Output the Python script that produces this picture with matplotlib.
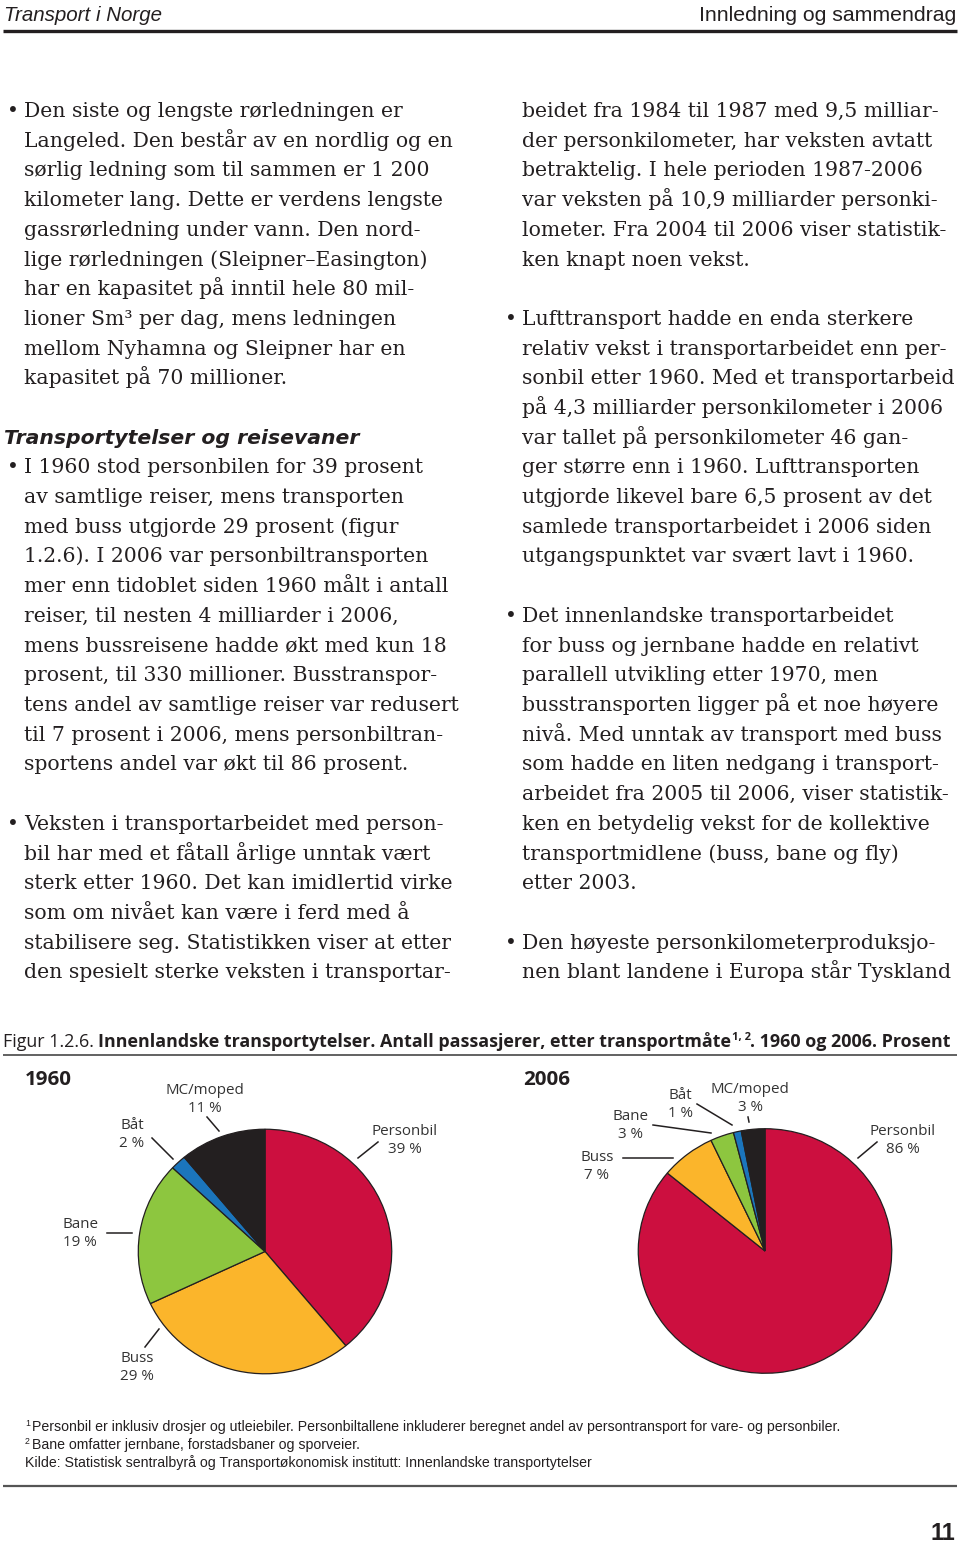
# %%
import matplotlib

matplotlib.use("Agg")
import matplotlib.pyplot as plt

# %% data: passenger shares by transport mode (percent)
modes = ["Personbil", "Buss", "Bane", "Båt", "MC/moped"]
share_1960 = [39, 29, 19, 2, 11]
share_2006 = [86, 7, 3, 1, 3]
mode_colors = ["#CC0F3F", "#FBB52B", "#8DC63F", "#1B75BC", "#231F20"]
years = ["1960", "2006"]

left_column = [
    "• Den siste og lengste rørledningen er",
    "Langeled. Den består av en nordlig og en",
    "sørlig ledning som til sammen er 1 200",
    "kilometer lang. Dette er verdens lengste",
    "gassrørledning under vann. Den nord-",
    "lige rørledningen (Sleipner–Easington)",
    "har en kapasitet på inntil hele 80 mil-",
    "lioner Sm³ per dag, mens ledningen",
    "mellom Nyhamna og Sleipner har en",
    "kapasitet på 70 millioner.",
    "",
    "#Transportytelser og reisevaner",
    "• I 1960 stod personbilen for 39 prosent",
    "av samtlige reiser, mens transporten",
    "med buss utgjorde 29 prosent (figur",
    "1.2.6). I 2006 var personbiltransporten",
    "mer enn tidoblet siden 1960 målt i antall",
    "reiser, til nesten 4 milliarder i 2006,",
    "mens bussreisene hadde økt med kun 18",
    "prosent, til 330 millioner. Busstranspor-",
    "tens andel av samtlige reiser var redusert",
    "til 7 prosent i 2006, mens personbiltran-",
    "sportens andel var økt til 86 prosent.",
    "",
    "• Veksten i transportarbeidet med person-",
    "bil har med et fåtall årlige unntak vært",
    "sterk etter 1960. Det kan imidlertid virke",
    "som om nivået kan være i ferd med å",
    "stabilisere seg. Statistikken viser at etter",
    "den spesielt sterke veksten i transportar-",
]
right_column = [
    "beidet fra 1984 til 1987 med 9,5 milliar-",
    "der personkilometer, har veksten avtatt",
    "betraktelig. I hele perioden 1987-2006",
    "var veksten på 10,9 milliarder personki-",
    "lometer. Fra 2004 til 2006 viser statistik-",
    "ken knapt noen vekst.",
    "",
    "• Lufttransport hadde en enda sterkere",
    "relativ vekst i transportarbeidet enn per-",
    "sonbil etter 1960. Med et transportarbeid",
    "på 4,3 milliarder personkilometer i 2006",
    "var tallet på personkilometer 46 gan-",
    "ger større enn i 1960. Lufttransporten",
    "utgjorde likevel bare 6,5 prosent av det",
    "samlede transportarbeidet i 2006 siden",
    "utgangspunktet var svært lavt i 1960.",
    "",
    "• Det innenlandske transportarbeidet",
    "for buss og jernbane hadde en relativt",
    "parallell utvikling etter 1970, men",
    "busstransporten ligger på et noe høyere",
    "nivå. Med unntak av transport med buss",
    "som hadde en liten nedgang i transport-",
    "arbeidet fra 2005 til 2006, viser statistik-",
    "ken en betydelig vekst for de kollektive",
    "transportmidlene (buss, bane og fly)",
    "etter 2003.",
    "",
    "• Den høyeste personkilometerproduksjo-",
    "nen blant landene i Europa står Tyskland",
]
footnotes = [
    ("1", "Personbil er inklusiv drosjer og utleiebiler. Personbiltallene inkluderer "
          "beregnet andel av persontransport for vare- og personbiler."),
    ("2", "Bane omfatter jernbane, forstadsbaner og sporveier."),
    ("", "Kilde: Statistisk sentralbyrå og Transportøkonomisk institutt: "
         "Innenlandske transportytelser"),
]

# %% layout (pixels on a 960 x 1545 page)
W, H = 960, 1545
SERIF = ["DejaVu Serif"]
SANS = ["Open Sans", "DejaVu Sans"]
NARROW = ["Liberation Sans Narrow", "Liberation Sans", "DejaVu Sans"]
INK = "#231F20"

# label centre x, first baseline y, leader line (x1, y1, x2, y2)
label_layout = {
    "1960": {
        "Personbil": (405, 1135, (358, 1158, 378, 1142)),
        "Buss": (137, 1362, (145, 1347, 159, 1329)),
        "Bane": (80, 1228, (107, 1233, 132, 1233)),
        "Båt": (132, 1129, (152, 1138, 173, 1159)),
        "MC/moped": (205, 1094, (207, 1117, 219, 1131)),
    },
    "2006": {
        "Personbil": (903, 1135, (858, 1158, 877, 1142)),
        "Buss": (597, 1161, (623, 1158, 673, 1158)),
        "Bane": (631, 1120, (653, 1125, 711, 1133)),
        "Båt": (680, 1099, (697, 1104, 732, 1125)),
        "MC/moped": (750, 1093, (748, 1117, 749, 1122)),
    },
}
pie_centres = {"1960": (265, 1251.5), "2006": (765, 1251)}
pie_rx, pie_ry = 128, 123.5

fig = plt.figure(figsize=(W / 100, H / 100), dpi=100)
page = fig.add_axes([0, 0, 1, 1], zorder=0)
page.set_xlim(0, W)
page.set_ylim(H, 0)
page.axis("off")
renderer = fig.canvas.get_renderer()


def width(text, family, size=10, weight="normal", style="normal"):
    t = page.text(0, 0, text, fontsize=size, family=family, weight=weight, style=style)
    w = t.get_window_extent(renderer).width
    t.remove()
    return w


def fit(text, family, target, weight="normal", style="normal"):
    return 10 * target / width(text, family, 10, weight, style)


# %% running head
size = fit("Transport i Norge", NARROW, 159, style="italic")
page.text(4, 21, "Transport i Norge", family=NARROW, style="italic",
          fontsize=size, color=INK, va="baseline")
size = fit("Innledning og sammendrag", NARROW, 259)
page.text(956, 21, "Innledning og sammendrag", family=NARROW, fontsize=size,
          color=INK, va="baseline", ha="right")
page.plot([3, 957], [31, 31], color=INK, lw=2.4, solid_capstyle="butt")

# %% body text in two columns
body_size = fit("Den siste og lengste rørledningen er", SERIF, 380)
head_size = fit("Transportytelser og reisevaner", ["DejaVu Sans"], 354,
                weight="bold", style="italic")
line_step = 29.7


def column(lines, x_text, x_bullet):
    for k, line in enumerate(lines):
        y = 117 + k * line_step
        if not line:
            continue
        if line.startswith("#"):
            page.text(x_bullet - 3, y, line[1:], family=["DejaVu Sans"],
                      weight="bold", style="italic", fontsize=head_size,
                      color=INK, va="baseline")
            continue
        if line.startswith("• "):
            page.text(x_bullet, y, "•", family=SERIF, fontsize=body_size,
                      color=INK, va="baseline")
            line = line[2:]
        page.text(x_text, y, line, family=SERIF, fontsize=body_size,
                  color=INK, va="baseline")


column(left_column, 24, 7)
column(right_column, 522, 505)

# %% figure caption, pieces chained and fitted to the full text width
cap_pieces = [
    ("Figur 1.2.6. ", "normal", 1.0, 0),
    ("Innenlandske transportytelser. Antall passasjerer, etter transportmåte",
     "bold", 1.0, 0),
    ("1, 2", "bold", 0.62, -7),
    (". 1960 og 2006. Prosent", "bold", 1.0, 0),
]
total = sum(width(t, SANS, 10 * f, w) for t, w, f, _ in cap_pieces)
cap_size = 10 * 952 / total
x = 3
for text, weight, factor, dy in cap_pieces:
    page.text(x, 1047 + dy, text, family=SANS, fontsize=cap_size * factor,
              weight=weight, color=INK, va="baseline")
    x += width(text, SANS, cap_size * factor, weight)
page.plot([3, 957], [1055, 1055], color="#555555", lw=1.3, solid_capstyle="butt")

# %% pies
year_size = fit("1960", SANS, 47, weight="bold")
label_size = fit("Personbil", SANS, 66)
year_x = {"1960": 25, "2006": 523}
for year, shares in zip(years, [share_1960, share_2006]):
    cx, cy = pie_centres[year]
    ax = fig.add_axes([(cx - pie_rx) / W, 1 - (cy + pie_ry) / H,
                       2 * pie_rx / W, 2 * pie_ry / H], zorder=2)
    ax.pie(shares, colors=mode_colors, startangle=90, counterclock=False,
           wedgeprops={"edgecolor": INK, "linewidth": 0.9})
    ax.set_aspect("auto")
    ax.set_xlim(-1.01, 1.01)
    ax.set_ylim(-1.01, 1.01)

    page.text(year_x[year], 1085, year, family=SANS, weight="bold",
              fontsize=year_size, color=INK, va="baseline")
    for mode, value in zip(modes, shares):
        lx, ly, (x1, y1, x2, y2) = label_layout[year][mode]
        page.text(lx, ly, mode, family=SANS, fontsize=label_size,
                  color="#333333", ha="center", va="baseline")
        page.text(lx, ly + 18, f"{value} %", family=SANS, fontsize=label_size,
                  color="#333333", ha="center", va="baseline")
        page.plot([x1, x2], [y1, y2], color=INK, lw=1.1)

# %% footnotes, rule and page number
note_size = fit(footnotes[0][1], NARROW, 810)
for k, (mark, note) in enumerate(footnotes):
    y = 1431 + k * 18
    x = 25
    if mark:
        page.text(x, y - 5, mark, family=NARROW, fontsize=note_size * 0.62,
                  color=INK, va="baseline")
        x = 32
    page.text(x, y, note, family=NARROW, fontsize=note_size, color=INK,
              va="baseline")
page.plot([3, 957], [1486, 1486], color="#555555", lw=1.6, solid_capstyle="butt")
num_size = fit("11", NARROW, 25, weight="bold")
page.text(955, 1540, "11", family=NARROW, weight="bold", fontsize=num_size,
          color=INK, ha="right", va="baseline")

plt.savefig("out.png", dpi=100)
